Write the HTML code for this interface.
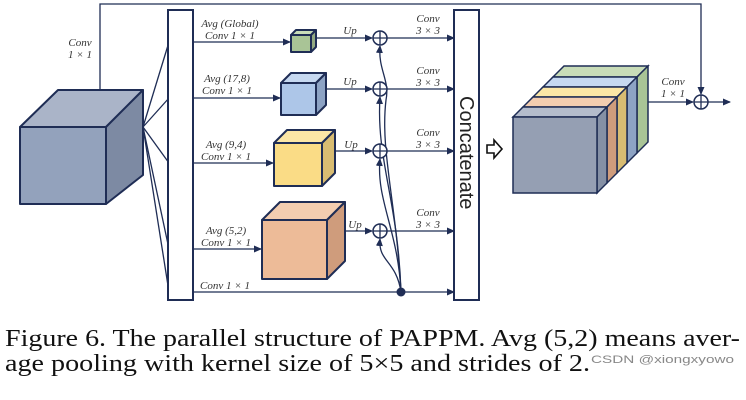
<!DOCTYPE html>
<html><head><meta charset="utf-8"><style>body{margin:0;background:#fff}svg{display:block}text{font-family:"Liberation Serif",serif}.s{font-family:"Liberation Sans",sans-serif}</style></head><body>
<svg width="746" height="400" viewBox="0 0 746 400" xmlns="http://www.w3.org/2000/svg">
<defs><marker id="a" markerWidth="8" markerHeight="8" refX="7" refY="4" orient="auto" markerUnits="userSpaceOnUse"><path d="M0,0.5 L8,4 L0,7.5Z" fill="#1f2d55"/></marker></defs>
<g stroke="#1f2d55" stroke-width="1.3" fill="none">
<polyline points="100,90 100,4 701,4 701,94" marker-end="url(#a)"/>
<line x1="143" y1="127" x2="169" y2="42"/><line x1="143" y1="127" x2="169" y2="98"/><line x1="143" y1="127" x2="169" y2="163"/><line x1="143" y1="127" x2="169" y2="249"/><line x1="143" y1="127" x2="169" y2="292"/>
<line x1="193" y1="42" x2="290" y2="42" marker-end="url(#a)"/>
<line x1="193" y1="98" x2="280" y2="98" marker-end="url(#a)"/>
<line x1="193" y1="163" x2="273" y2="163" marker-end="url(#a)"/>
<line x1="193" y1="249" x2="261" y2="249" marker-end="url(#a)"/>
<line x1="193" y1="292" x2="454" y2="292" marker-end="url(#a)"/>
<line x1="316" y1="38" x2="372" y2="38" marker-end="url(#a)"/>
<line x1="326" y1="89" x2="372" y2="89" marker-end="url(#a)"/>
<line x1="335" y1="151" x2="372" y2="151" marker-end="url(#a)"/>
<line x1="345" y1="231" x2="372" y2="231" marker-end="url(#a)"/>
<line x1="387" y1="38" x2="454" y2="38" marker-end="url(#a)"/>
<line x1="387" y1="89" x2="454" y2="89" marker-end="url(#a)"/>
<line x1="387" y1="151" x2="454" y2="151" marker-end="url(#a)"/>
<line x1="387" y1="231" x2="454" y2="231" marker-end="url(#a)"/>
<path d="M401,292 C396,200 380,150 386,100 C390,80 378,70 380,46" marker-end="url(#a)"/>
<path d="M401,292 C398,200 376,160 380,97" marker-end="url(#a)"/>
<path d="M401,292 C398,230 376,200 380,159" marker-end="url(#a)"/>
<path d="M401,292 C396,260 378,262 380,239" marker-end="url(#a)"/>
<line x1="648" y1="102" x2="693" y2="102" marker-end="url(#a)"/>
<line x1="708" y1="102" x2="730" y2="102" marker-end="url(#a)"/>
</g>
<circle cx="401" cy="292" r="4.5" fill="#1f2d55"/>
<g stroke="#1f2d55" stroke-width="1.5" fill="#fff">
<circle cx="380" cy="38" r="7"/><circle cx="380" cy="89" r="7"/><circle cx="380" cy="151" r="7"/><circle cx="380" cy="231" r="7"/><circle cx="701" cy="102" r="7"/>
</g>
<g stroke="#1f2d55" stroke-width="1.3"><path d="M373,38h14M380,31v14M373,89h14M380,82v14M373,151h14M380,144v14M373,231h14M380,224v14M694,102h14M701,95v14"/></g>
<rect x="168" y="10" width="25" height="290" fill="#fff" stroke="#1f2d55" stroke-width="2"/>
<rect x="454" y="10" width="25" height="290" fill="#fff" stroke="#1f2d55" stroke-width="2"/>
<text class="s" transform="translate(460,96) rotate(90)" font-size="20" fill="#222">Concatenate</text>
<g stroke="#1f2d55" stroke-width="2" stroke-linejoin="round">
<polygon points="20,127 58,90 143,90 106,127" fill="#aab4c8"/><polygon points="106,127 143,90 143,175 106,204" fill="#7d8aa3"/><rect x="20" y="127" width="86" height="77" fill="#93a2bc"/>
<polygon points="291,35 296,30 316,30 311,35" fill="#c8dcb8"/><polygon points="311,35 316,30 316,47 311,52" fill="#93aa82"/><rect x="291" y="35" width="20" height="17" fill="#a9c496"/>
<polygon points="281,83 291,73 326,73 316,83" fill="#c6d8f0"/><polygon points="316,83 326,73 326,105 316,115" fill="#8da3c4"/><rect x="281" y="83" width="35" height="32" fill="#adc6e8"/>
<polygon points="274,143 287,130 335,130 322,143" fill="#fbe6a6"/><polygon points="322,143 335,130 335,173 322,186" fill="#d8bc72"/><rect x="274" y="143" width="48" height="43" fill="#fadc86"/>
<polygon points="262,220 280,202 345,202 327,220" fill="#f3cdb0"/><polygon points="327,220 345,202 345,261 327,279" fill="#cf9c7c"/><rect x="262" y="220" width="65" height="59" fill="#edbb98"/>
</g>
<g stroke="#1f2d55" stroke-width="1.5">
<polygon points="553,77 564,66 648,66 637,77" fill="#c8dcb8"/><polygon points="637,77 648,66 648,142 637,153" fill="#a9c496"/>
<polygon points="543,87 553,77 637,77 627,87" fill="#c6d8f0"/><polygon points="627,87 637,77 637,153 627,163" fill="#8da3c4"/>
<polygon points="533,97 543,87 627,87 617,97" fill="#fbe6a6"/><polygon points="617,97 627,87 627,163 617,173" fill="#d8bc72"/>
<polygon points="523,107 533,97 617,97 607,107" fill="#f3cdb0"/><polygon points="607,107 617,97 617,173 607,183" fill="#cf9c7c"/>
<polygon points="513,117 523,107 607,107 597,117" fill="#b4bccc"/><polygon points="597,117 607,107 607,183 597,193" fill="#8590a5"/>
<rect x="513" y="117" width="84" height="76" fill="#959fb3"/>
</g>
<path d="M487,145 h7 v-5 l8,9 l-8,9 v-5 h-7 Z" fill="#fff" stroke="#111" stroke-width="1.6"/>
<g font-style="italic" font-size="11" fill="#333" text-anchor="middle">
<text x="80" y="46">Conv</text><text x="80" y="58">1 × 1</text>
<text x="230" y="27">Avg (Global)</text><text x="230" y="39">Conv 1 × 1</text>
<text x="227" y="82">Avg (17,8)</text><text x="227" y="94">Conv 1 × 1</text>
<text x="226" y="148">Avg (9,4)</text><text x="226" y="160">Conv 1 × 1</text>
<text x="226" y="234">Avg (5,2)</text><text x="226" y="246">Conv 1 × 1</text>
<text x="225" y="289">Conv 1 × 1</text>
<text x="350" y="34">Up</text><text x="350" y="85">Up</text><text x="351" y="148">Up</text><text x="355" y="228">Up</text>
<text x="428" y="22">Conv</text><text x="428" y="34">3 × 3</text>
<text x="428" y="74">Conv</text><text x="428" y="86">3 × 3</text>
<text x="428" y="136">Conv</text><text x="428" y="148">3 × 3</text>
<text x="428" y="216">Conv</text><text x="428" y="228">3 × 3</text>
<text x="673" y="85">Conv</text><text x="673" y="97">1 × 1</text>
</g>
<text x="5" y="346" font-size="24" fill="#111" textLength="735" lengthAdjust="spacingAndGlyphs">Figure 6. The parallel structure of PAPPM. Avg (5,2) means aver-</text>
<text x="5" y="371" font-size="24" fill="#111" textLength="585" lengthAdjust="spacingAndGlyphs">age pooling with kernel size of 5×5 and strides of 2.</text>
<text class="s" x="591" y="363" font-size="11" fill="#888" textLength="143" lengthAdjust="spacingAndGlyphs">CSDN @xiongxyowo</text>
</svg>
</body></html>
